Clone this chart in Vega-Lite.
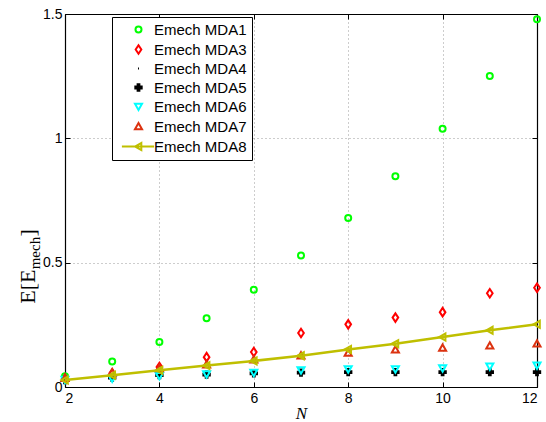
{
  "$schema": "https://vega.github.io/schema/vega-lite/v6.json",
  "width": 472,
  "height": 373,
  "autosize": {"type": "none"},
  "padding": {"left": 65, "top": 14, "right": 9, "bottom": 35},
  "background": "white",
  "config": {
    "view": {"stroke": null},
    "axis": {
      "labelFont": "Liberation Sans",
      "labelFontSize": 14,
      "labelColor": "#000",
      "tickColor": "#000",
      "domainColor": "#000",
      "domainWidth": 1.2,
      "tickWidth": 1,
      "gridColor": "#9a9a9a",
      "gridDash": [1, 3],
      "gridWidth": 1,
      "titleColor": "#000",
      "titleFontWeight": "normal"
    }
  },
  "data": {
    "values": [
      {"N": 2, "v": 0.043, "s": "Emech MDA1"}, {"N": 3, "v": 0.103, "s": "Emech MDA1"}, {"N": 4, "v": 0.181, "s": "Emech MDA1"}, {"N": 5, "v": 0.276, "s": "Emech MDA1"}, {"N": 6, "v": 0.391, "s": "Emech MDA1"}, {"N": 7, "v": 0.529, "s": "Emech MDA1"}, {"N": 8, "v": 0.68, "s": "Emech MDA1"}, {"N": 9, "v": 0.848, "s": "Emech MDA1"}, {"N": 10, "v": 1.039, "s": "Emech MDA1"}, {"N": 11, "v": 1.251, "s": "Emech MDA1"}, {"N": 12, "v": 1.479, "s": "Emech MDA1"},
      {"N": 2, "v": 0.034, "s": "Emech MDA3"}, {"N": 3, "v": 0.055, "s": "Emech MDA3"}, {"N": 4, "v": 0.08, "s": "Emech MDA3"}, {"N": 5, "v": 0.12, "s": "Emech MDA3"}, {"N": 6, "v": 0.141, "s": "Emech MDA3"}, {"N": 7, "v": 0.217, "s": "Emech MDA3"}, {"N": 8, "v": 0.252, "s": "Emech MDA3"}, {"N": 9, "v": 0.279, "s": "Emech MDA3"}, {"N": 10, "v": 0.301, "s": "Emech MDA3"}, {"N": 11, "v": 0.377, "s": "Emech MDA3"}, {"N": 12, "v": 0.399, "s": "Emech MDA3"},
      {"N": 2, "v": 0.03, "s": "Emech MDA4"}, {"N": 3, "v": 0.04, "s": "Emech MDA4"}, {"N": 4, "v": 0.05, "s": "Emech MDA4"}, {"N": 5, "v": 0.052, "s": "Emech MDA4"}, {"N": 6, "v": 0.058, "s": "Emech MDA4"}, {"N": 7, "v": 0.062, "s": "Emech MDA4"}, {"N": 8, "v": 0.065, "s": "Emech MDA4"}, {"N": 9, "v": 0.066, "s": "Emech MDA4"}, {"N": 10, "v": 0.067, "s": "Emech MDA4"}, {"N": 11, "v": 0.068, "s": "Emech MDA4"}, {"N": 12, "v": 0.068, "s": "Emech MDA4"},
      {"N": 2, "v": 0.028, "s": "Emech MDA5"}, {"N": 3, "v": 0.038, "s": "Emech MDA5"}, {"N": 4, "v": 0.048, "s": "Emech MDA5"}, {"N": 5, "v": 0.05, "s": "Emech MDA5"}, {"N": 6, "v": 0.055, "s": "Emech MDA5"}, {"N": 7, "v": 0.058, "s": "Emech MDA5"}, {"N": 8, "v": 0.06, "s": "Emech MDA5"}, {"N": 9, "v": 0.06, "s": "Emech MDA5"}, {"N": 10, "v": 0.06, "s": "Emech MDA5"}, {"N": 11, "v": 0.06, "s": "Emech MDA5"}, {"N": 12, "v": 0.06, "s": "Emech MDA5"},
      {"N": 2, "v": 0.03, "s": "Emech MDA6"}, {"N": 3, "v": 0.035, "s": "Emech MDA6"}, {"N": 4, "v": 0.045, "s": "Emech MDA6"}, {"N": 5, "v": 0.052, "s": "Emech MDA6"}, {"N": 6, "v": 0.058, "s": "Emech MDA6"}, {"N": 7, "v": 0.068, "s": "Emech MDA6"}, {"N": 8, "v": 0.072, "s": "Emech MDA6"}, {"N": 9, "v": 0.072, "s": "Emech MDA6"}, {"N": 10, "v": 0.076, "s": "Emech MDA6"}, {"N": 11, "v": 0.083, "s": "Emech MDA6"}, {"N": 12, "v": 0.087, "s": "Emech MDA6"},
      {"N": 2, "v": 0.035, "s": "Emech MDA7"}, {"N": 3, "v": 0.058, "s": "Emech MDA7"}, {"N": 4, "v": 0.075, "s": "Emech MDA7"}, {"N": 5, "v": 0.09, "s": "Emech MDA7"}, {"N": 6, "v": 0.11, "s": "Emech MDA7"}, {"N": 7, "v": 0.126, "s": "Emech MDA7"}, {"N": 8, "v": 0.137, "s": "Emech MDA7"}, {"N": 9, "v": 0.15, "s": "Emech MDA7"}, {"N": 10, "v": 0.157, "s": "Emech MDA7"}, {"N": 11, "v": 0.166, "s": "Emech MDA7"}, {"N": 12, "v": 0.174, "s": "Emech MDA7"},
      {"N": 2, "v": 0.028, "s": "Emech MDA8"}, {"N": 3, "v": 0.047, "s": "Emech MDA8"}, {"N": 4, "v": 0.067, "s": "Emech MDA8"}, {"N": 5, "v": 0.086, "s": "Emech MDA8"}, {"N": 6, "v": 0.105, "s": "Emech MDA8"}, {"N": 7, "v": 0.126, "s": "Emech MDA8"}, {"N": 8, "v": 0.151, "s": "Emech MDA8"}, {"N": 9, "v": 0.174, "s": "Emech MDA8"}, {"N": 10, "v": 0.201, "s": "Emech MDA8"}, {"N": 11, "v": 0.228, "s": "Emech MDA8"}, {"N": 12, "v": 0.252, "s": "Emech MDA8"}
    ]
  },
  "resolve": {"axis": {"x": "independent", "y": "independent"}},
  "layer": [
    {
      "transform": [{"filter": "datum.s !== 'Emech MDA8'"}],
      "mark": {"type": "point", "filled": false, "strokeWidth": 2, "size": 50, "opacity": 1},
      "encoding": {
        "x": {"field": "N", "type": "quantitative", "scale": {"domain": [2, 12], "nice": false, "zero": false},
          "axis": {"orient": "bottom", "values": [2, 4, 6, 8, 10, 12], "grid": true, "tickSize": -5, "labelPadding": 9, "title": "N", "titleFont": "Liberation Serif", "titleFontStyle": "italic", "titleFontSize": 17, "titleBaseline": "alphabetic", "titleY": 31}},
        "y": {"field": "v", "type": "quantitative", "scale": {"domain": [0, 1.5], "nice": false},
          "axis": {"orient": "left", "values": [0, 0.5, 1, 1.5], "format": "~g", "grid": true, "tickSize": -5, "labelPadding": 8,
                   "title": "E[E\u00a0\u00a0\u00a0\u00a0\u00a0\u00a0]", "titleFont": "Liberation Serif", "titleFontSize": 22, "titleBaseline": "alphabetic", "titleAnchor": "middle", "titleX": -31, "titleY": 252}},
        "color": {"field": "s", "type": "nominal",
          "scale": {"domain": ["Emech MDA1", "Emech MDA3", "Emech MDA4", "Emech MDA5", "Emech MDA6", "Emech MDA7", "Emech MDA8"],
                    "range": ["#00ff00", "#ff0000", "#000000", "#000000", "#00ffff", "#dc3210", "#bfbf00"]},
          "legend": {"orient": "none", "legendX": 47, "legendY": 3, "title": null, "strokeColor": "#000", "fillColor": "#fff", "padding": 5,
                     "labelFont": "Liberation Sans", "labelFontSize": 15, "labelColor": "#000", "symbolSize": 50, "symbolStrokeWidth": 2,
                     "symbolOffset": 14, "labelOffset": 8, "rowPadding": 3}},
        "shape": {"field": "s", "type": "nominal",
          "scale": {"domain": ["Emech MDA1", "Emech MDA3", "Emech MDA4", "Emech MDA5", "Emech MDA6", "Emech MDA7", "Emech MDA8"],
                    "range": ["M0.85,0A0.85,0.85,0,1,1,-0.85,0A0.85,0.85,0,1,1,0.85,0Z", "M0,-1.2L0.8,0L0,1.2L-0.8,0Z", "M-0.15,0L0.15,0", "M-0.25,-0.9H0.25V-0.25H0.9V0.25H0.25V0.9H-0.25V0.25H-0.9V-0.25H-0.25Z", "M-1,-0.8L1,-0.8L0,1Z", "M0,-1L1,0.8L-1,0.8Z", "M-4.7,0L4.4,0M-1,0L0.8,-1L0.8,1Z"]}}
      }
    },
    {
      "transform": [{"filter": "datum.s === 'Emech MDA8'"}],
      "mark": {"type": "line", "color": "#bfbf00", "strokeWidth": 2.5},
      "encoding": {
        "x": {"field": "N", "type": "quantitative", "axis": {"orient": "top", "values": [2, 4, 6, 8, 10, 12], "labels": false, "grid": false, "tickSize": -5, "title": null}},
        "y": {"field": "v", "type": "quantitative", "axis": {"orient": "right", "values": [0, 0.5, 1, 1.5], "labels": false, "grid": false, "tickSize": -5, "title": null}}
      }
    },
    {
      "transform": [{"filter": "datum.s === 'Emech MDA8'"}],
      "mark": {"type": "point", "filled": false, "strokeWidth": 2, "size": 50, "opacity": 1, "color": "#bfbf00", "shape": "M-1,0L0.8,-1L0.8,1Z"},
      "encoding": {
        "x": {"field": "N", "type": "quantitative", "axis": null},
        "y": {"field": "v", "type": "quantitative",
          "axis": {"orient": "left", "domain": false, "ticks": false, "labels": false, "grid": false,
                   "title": "mech", "titleFont": "Liberation Serif", "titleFontSize": 15, "titleBaseline": "alphabetic", "titleAnchor": "middle", "titleX": -26, "titleY": 238.6}}
      }
    }
  ]
}
